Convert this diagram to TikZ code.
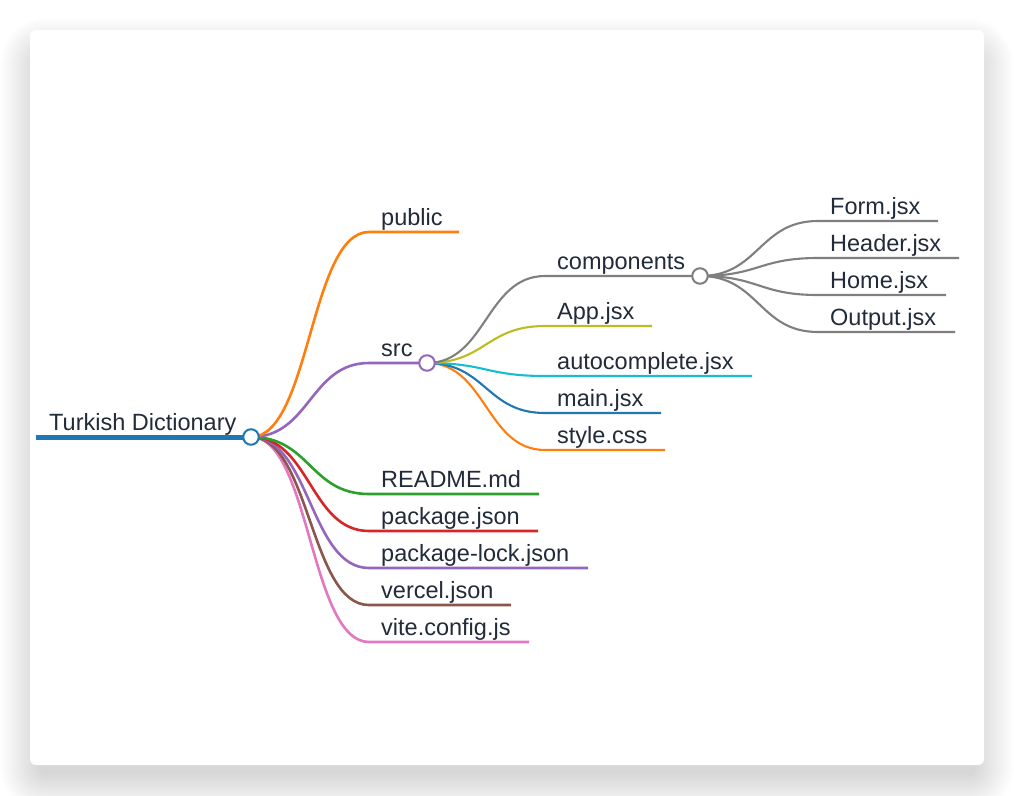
\documentclass[tikz,border=0pt]{standalone}
\usepackage{fontspec}
\setmainfont{Liberation Sans}

\definecolor{mmblue}{HTML}{1F77B4}
\definecolor{mmorange}{HTML}{FF7F0E}
\definecolor{mmgreen}{HTML}{2CA02C}
\definecolor{mmred}{HTML}{D62728}
\definecolor{mmpurple}{HTML}{9467BD}
\definecolor{mmbrown}{HTML}{8C564B}
\definecolor{mmpink}{HTML}{E377C2}
\definecolor{mmgray}{HTML}{7F7F7F}
\definecolor{mmolive}{HTML}{BCBD22}
\definecolor{mmcyan}{HTML}{17BECF}
\definecolor{txt}{HTML}{222B3A}

\begin{document}
\begin{tikzpicture}[x=1pt,y=-1pt,
    lbl/.style={anchor=base west,inner sep=0pt,text=txt,font=\fontsize{23.5}{28}\selectfont},
    knot/.style={circle,draw,fill=white,line width=2pt,minimum size=15.5pt,inner sep=0pt},
    branch/.style={line width=2.6pt},
    twig/.style={line width=2.1pt}]
    % card with a soft shadow
    \useasboundingbox (0,0) rectangle (1014,795);
    \fill[white] (0,0) rectangle (1014,795);
    \foreach \s in {1,...,40} {
        \pgfmathsetmacro{\rr}{6+\s}
        \fill[black,opacity=0.0042,rounded corners=\rr pt] (40-\s,58-\s) rectangle (974+\s,773+\s);
    }
    \fill[white,rounded corners=6pt] (30,30) rectangle (984,765);

    % root
    \coordinate (rootL) at (36,437);
    \coordinate (root)  at (251,437);
    \node[lbl] (title) at (49,430.5) {Turkish Dictionary};
    \draw[mmblue,line width=5pt] (rootL) -- (root);

    % first level
    \coordinate (pubA)  at (369,232);  \coordinate (pubB)  at (459,232);
    \coordinate (srcA)  at (369,363);  \coordinate (src)   at (427,363);
    \coordinate (readA) at (369,494);  \coordinate (readB) at (539,494);
    \coordinate (pkgA)  at (369,531);  \coordinate (pkgB)  at (538,531);
    \coordinate (lockA) at (369,568);  \coordinate (lockB) at (588,568);
    \coordinate (verA)  at (369,605);  \coordinate (verB)  at (511,605);
    \coordinate (viteA) at (369,642);  \coordinate (viteB) at (529,642);
    \node[lbl] (public) at (381,225) {public};
    \node[lbl] (srcT)   at (381,356) {src};
    \node[lbl] (readme) at (381,487) {README.md};
    \node[lbl] (pkg)    at (381,524) {package.json};
    \node[lbl] (lock)   at (381,561) {package-lock.json};
    \node[lbl] (vercel) at (381,598) {vercel.json};
    \node[lbl] (vite)   at (381,635) {vite.config.js};
    \draw[branch,mmpink]   (root) .. controls +(59,0) and +(-59,0) .. (viteA) -- (viteB);
    \draw[branch,mmbrown]  (root) .. controls +(59,0) and +(-59,0) .. (verA)  -- (verB);
    \draw[branch,mmpurple] (root) .. controls +(59,0) and +(-59,0) .. (lockA) -- (lockB);
    \draw[branch,mmred]    (root) .. controls +(59,0) and +(-59,0) .. (pkgA)  -- (pkgB);
    \draw[branch,mmgreen]  (root) .. controls +(59,0) and +(-59,0) .. (readA) -- (readB);
    \draw[branch,mmpurple] (root) .. controls +(59,0) and +(-59,0) .. (srcA)  -- (src);
    \draw[branch,mmorange] (root) .. controls +(59,0) and +(-59,0) .. (pubA)  -- (pubB);

    % src
    \coordinate (compA)  at (545,276);  \coordinate (comp)   at (700,276);
    \coordinate (appA)   at (545,326);  \coordinate (appB)   at (652,326);
    \coordinate (autoA)  at (545,376);  \coordinate (autoB)  at (752,376);
    \coordinate (mainA)  at (545,413);  \coordinate (mainB)  at (661,413);
    \coordinate (styleA) at (545,450);  \coordinate (styleB) at (665,450);
    \node[lbl] (compT) at (557,269) {components};
    \node[lbl] (app)   at (557,319) {App.jsx};
    \node[lbl] (auto)  at (557,369) {autocomplete.jsx};
    \node[lbl] (main)  at (557,406) {main.jsx};
    \node[lbl] (style) at (557,443) {style.css};
    \draw[twig,mmorange] (src) .. controls +(59,0) and +(-59,0) .. (styleA) -- (styleB);
    \draw[twig,mmblue]   (src) .. controls +(59,0) and +(-59,0) .. (mainA)  -- (mainB);
    \draw[twig,mmcyan]   (src) .. controls +(59,0) and +(-59,0) .. (autoA)  -- (autoB);
    \draw[twig,mmolive]  (src) .. controls +(59,0) and +(-59,0) .. (appA)   -- (appB);
    \draw[twig,mmgray]   (src) .. controls +(59,0) and +(-59,0) .. (compA)  -- (comp);

    % components
    \coordinate (formA) at (818,221);  \coordinate (formB) at (938,221);
    \coordinate (headA) at (818,258);  \coordinate (headB) at (959,258);
    \coordinate (homeA) at (818,295);  \coordinate (homeB) at (946,295);
    \coordinate (outA)  at (818,332);  \coordinate (outB)  at (955,332);
    \node[lbl] (form)   at (830,214) {Form.jsx};
    \node[lbl] (header) at (830,251) {Header.jsx};
    \node[lbl] (home)   at (830,288) {Home.jsx};
    \node[lbl] (output) at (830,325) {Output.jsx};
    \draw[twig,mmgray] (comp) .. controls +(59,0) and +(-59,0) .. (formA) -- (formB);
    \draw[twig,mmgray] (comp) .. controls +(59,0) and +(-59,0) .. (headA) -- (headB);
    \draw[twig,mmgray] (comp) .. controls +(59,0) and +(-59,0) .. (homeA) -- (homeB);
    \draw[twig,mmgray] (comp) .. controls +(59,0) and +(-59,0) .. (outA)  -- (outB);

    % knots on top
    \node[knot,draw=mmblue]   (rootK) at (root) {};
    \node[knot,draw=mmpurple] (srcK)  at (src)  {};
    \node[knot,draw=mmgray]   (compK) at (comp) {};
\end{tikzpicture}
\end{document}
